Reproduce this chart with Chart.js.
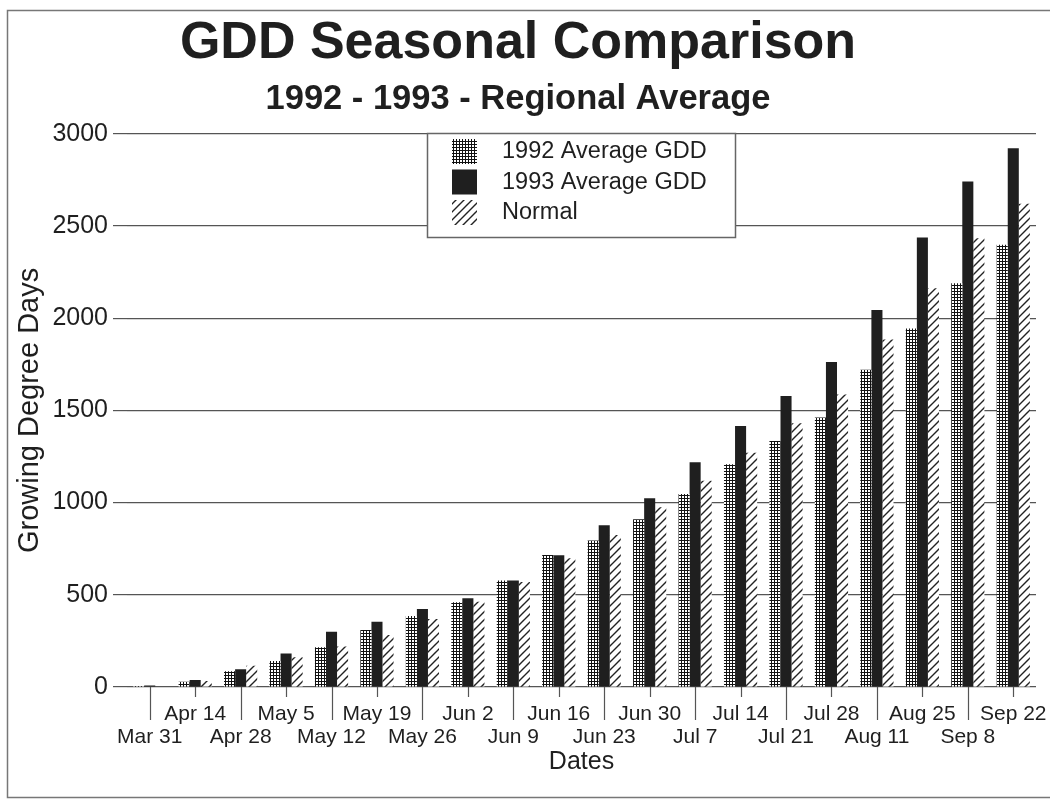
<!DOCTYPE html>
<html>
<head>
<meta charset="utf-8">
<title>GDD Seasonal Comparison</title>
<script src="https://cdn.jsdelivr.net/npm/chart.js@4.4.0/dist/chart.umd.min.js"></script>
<style>
  html, body { margin: 0; padding: 0; background: #fff; }
  #wrap { width: 1050px; height: 801px; position: relative; }
</style>
</head>
<body>
<div id="wrap"><canvas id="gdd" width="1050" height="801"></canvas></div>
<script>
// Weekly reporting dates
const dates = ['Mar 31', 'Apr 14', 'Apr 28', 'May 5', 'May 12', 'May 19', 'May 26',
  'Jun 2', 'Jun 9', 'Jun 16', 'Jun 23', 'Jun 30', 'Jul 7', 'Jul 14', 'Jul 21',
  'Jul 28', 'Aug 11', 'Aug 25', 'Sep 8', 'Sep 22'];

// Accumulated growing degree days
const gdd1992 = [6, 28, 85, 141, 215, 309, 385, 460, 577, 716, 794, 910, 1047, 1208, 1334, 1461, 1720, 1944, 2190, 2398];
const gdd1993 = [8, 38, 96, 181, 300, 354, 423, 481, 577, 715, 877, 1024, 1219, 1415, 1578, 1762, 2044, 2437, 2741, 2922];
const gddNormal = [3, 32, 115, 161, 220, 282, 369, 462, 570, 698, 824, 975, 1119, 1270, 1430, 1586, 1884, 2163, 2434, 2620];

const yTicks = [0, 500, 1000, 1500, 2000, 2500, 3000];

const INK = '#1f1f1f';
const FONT = '"Liberation Sans", Arial, Helvetica, sans-serif';
Chart.defaults.font.family = FONT;
Chart.defaults.color = INK;

const canvas = document.getElementById('gdd');
const ctx = canvas.getContext('2d');

// Fine cross-hatch grid fill
function gridPattern() {
  const t = document.createElement('canvas');
  t.width = 3; t.height = 3;
  const g = t.getContext('2d');
  g.fillStyle = '#fff'; g.fillRect(0, 0, 3, 3);
  g.fillStyle = '#111';
  g.fillRect(0, 0, 3, 1);
  g.fillRect(0, 0, 1, 3);
  return ctx.createPattern(t, 'repeat');
}

// Diagonal "/" hatch fill
function hatchPattern() {
  const s = 8;
  const t = document.createElement('canvas');
  t.width = s; t.height = s;
  const g = t.getContext('2d');
  g.fillStyle = '#fff'; g.fillRect(0, 0, s, s);
  g.strokeStyle = '#222'; g.lineWidth = 1.4;
  g.beginPath();
  g.moveTo(0, s); g.lineTo(s, 0);
  g.moveTo(-2, 2); g.lineTo(2, -2);
  g.moveTo(s - 2, s + 2); g.lineTo(s + 2, s - 2);
  g.stroke();
  return ctx.createPattern(t, 'repeat');
}

// Page frame (top, left and bottom rules)
const frame = {
  id: 'frame',
  beforeDraw(chart) {
    const c = chart.ctx;
    c.save();
    c.fillStyle = '#fff';
    c.fillRect(0, 0, chart.width, chart.height);
    c.strokeStyle = '#777';
    c.lineWidth = 1.5;
    c.beginPath();
    c.moveTo(chart.width, 10.5); c.lineTo(7.5, 10.5); c.lineTo(7.5, 797.5); c.lineTo(chart.width, 797.5);
    c.stroke();
    c.restore();
  }
};

// Staggered category tick marks: long under the lower row, short under the upper row
const dateTicks = {
  id: 'dateTicks',
  afterDatasetsDraw(chart) {
    const c = chart.ctx;
    const xs = chart.scales.x;
    const base = chart.chartArea.bottom;
    c.save();
    c.strokeStyle = '#555';
    c.lineWidth = 1.2;
    dates.forEach((d, i) => {
      const x = Math.round(xs.getPixelForTick(i)) + 0.5;
      const len = i % 2 === 0 ? 33 : 10;
      c.beginPath();
      c.moveTo(x, base);
      c.lineTo(x, base + len);
      c.stroke();
    });
    c.restore();
  }
};

// Boxed legend inside the plot
const legendBox = {
  id: 'legendBox',
  afterDatasetsDraw(chart) {
    const c = chart.ctx;
    const bx = 427.5, by = 133.5, bw = 308, bh = 104;
    c.save();
    c.fillStyle = '#fff';
    c.fillRect(bx, by, bw, bh);
    c.strokeStyle = '#666';
    c.lineWidth = 1.5;
    c.strokeRect(bx, by, bw, bh);
    c.font = '23.5px ' + FONT;
    c.textBaseline = 'middle';
    c.textAlign = 'left';
    chart.data.datasets.forEach((ds, i) => {
      const y = 139 + i * 30.5;
      c.fillStyle = ds.backgroundColor;
      c.fillRect(452, y, 25, 25);
      c.fillStyle = INK;
      c.fillText(ds.label, 502, y + 13);
    });
    c.restore();
  }
};

new Chart(ctx, {
  type: 'bar',
  data: {
    labels: dates,
    datasets: [
      { label: '1992 Average GDD', data: gdd1992, backgroundColor: gridPattern() },
      { label: '1993 Average GDD', data: gdd1993, backgroundColor: INK },
      { label: 'Normal', data: gddNormal, backgroundColor: hatchPattern() }
    ]
  },
  options: {
    responsive: false,
    animation: false,
    devicePixelRatio: 1,
    layout: { padding: { top: 0, left: 0, right: 14, bottom: 0 } },
    datasets: { bar: { categoryPercentage: 0.73, barPercentage: 1.0, borderWidth: 0 } },
    plugins: {
      legend: { display: false },
      tooltip: { enabled: false },
      title: {
        display: true,
        text: 'GDD Seasonal Comparison',
        color: INK,
        font: { size: 52, weight: 'bold', lineHeight: 1.2 },
        padding: { top: 12, bottom: 0 }
      },
      subtitle: {
        display: true,
        text: '1992 - 1993 - Regional Average',
        color: INK,
        font: { size: 34.5, weight: 'bold', lineHeight: 1.2 },
        padding: { top: 4, bottom: 14 }
      }
    },
    scales: {
      x: {
        grid: { display: false, drawTicks: false },
        border: { display: false },
        ticks: {
          autoSkip: false,
          maxRotation: 0,
          minRotation: 0,
          padding: 15.5,
          color: INK,
          font: { size: 21, lineHeight: 1.1 },
          callback: (v, i) => (i % 2 === 0 ? ['', dates[i]] : [dates[i]])
        },
        title: {
          display: true,
          text: 'Dates',
          color: INK,
          font: { size: 25 },
          padding: { top: 0, bottom: 24 }
        },
        afterFit(s) {
          s.height = 114;
          s.paddingLeft = 0;
          s.paddingRight = 0;
        }
      },
      y: {
        min: 0,
        max: 3000,
        afterBuildTicks(s) { s.ticks = yTicks.map(v => ({ value: v })); },
        ticks: { padding: 5, color: INK, font: { size: 25 }, callback: v => String(v) },
        grid: { color: '#555', lineWidth: 1.2, tickLength: 14 },
        border: { display: false },
        title: {
          display: true,
          text: 'Growing Degree Days',
          color: INK,
          font: { size: 29 },
          padding: { top: 13, bottom: 0 }
        },
        afterFit(s) { s.width = 127; }
      }
    }
  },
  plugins: [frame, dateTicks, legendBox]
});
</script>
</body>
</html>
